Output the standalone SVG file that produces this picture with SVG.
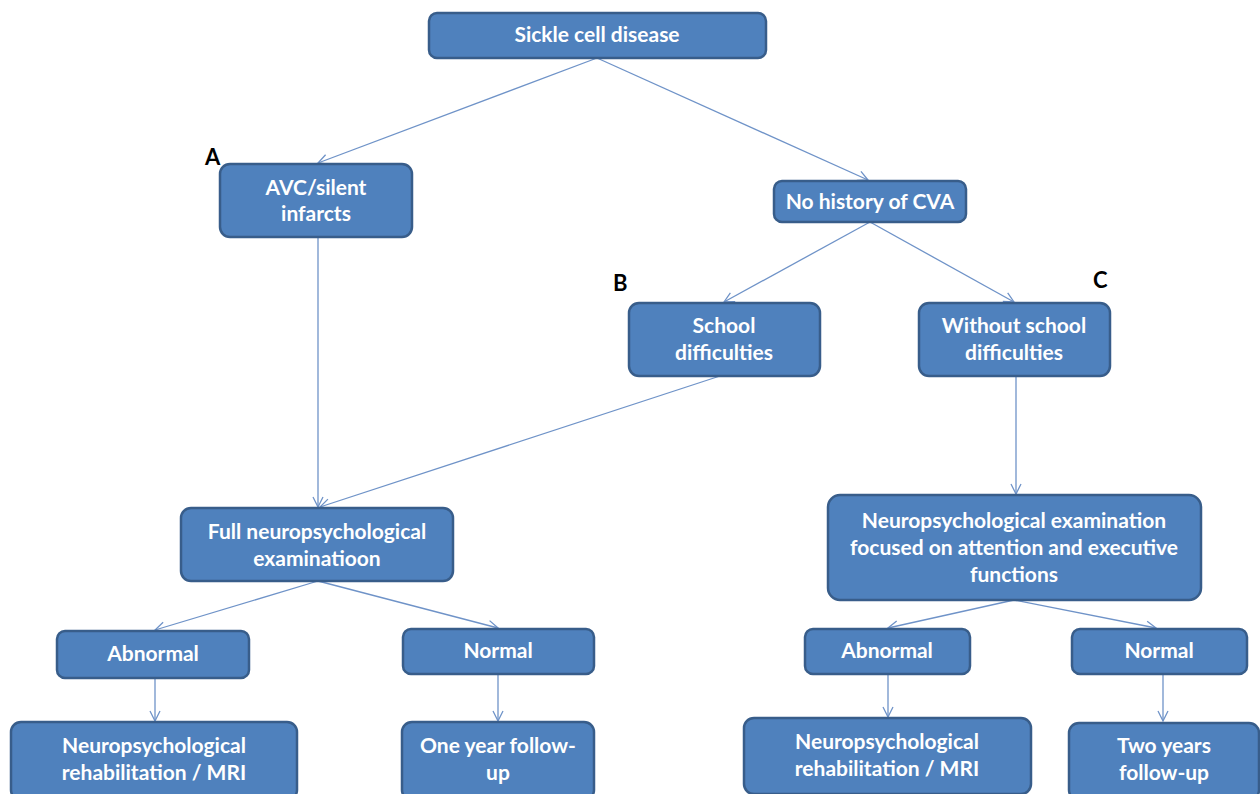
<svg xmlns="http://www.w3.org/2000/svg" width="1260" height="794" viewBox="0 0 1260 794">
  <defs>
    <style>
      .box { fill: #4F81BD; stroke: #385D8A; stroke-width: 2.5; }
      .t { font-family: Lato, "Open Sans", "Liberation Sans", sans-serif; font-weight: bold; font-size: 21px; fill: #FFFFFF; text-anchor: middle; }
      .lbl { font-family: Lato, "Liberation Sans", sans-serif; font-weight: bold; font-size: 22px; fill: #000000; }
      .c { fill: none; stroke: #6F93C8; stroke-width: 1.3; marker-end: url(#arr); }
    </style>
    <marker id="arr" viewBox="0 0 12 12" refX="11" refY="6" markerWidth="12" markerHeight="12" markerUnits="userSpaceOnUse" orient="auto">
      <path d="M1,1 L11,6 L1,11" fill="none" stroke="#6F93C8" stroke-width="1.3"/>
    </marker>
  </defs>
  <rect width="1260" height="794" fill="#FFFFFF"/>

  <g id="connectors">
    <line class="c" x1="597" y1="58" x2="318" y2="163"/>
    <line class="c" x1="597" y1="58" x2="868" y2="180"/>
    <line class="c" x1="318" y1="237" x2="318" y2="507"/>
    <line class="c" x1="870" y1="222" x2="724" y2="302"/>
    <line class="c" x1="870" y1="222" x2="1014" y2="302"/>
    <line class="c" x1="720" y1="376" x2="320" y2="507"/>
    <line class="c" x1="1016" y1="376" x2="1016" y2="494"/>
    <line class="c" x1="318" y1="581" x2="155" y2="630"/>
    <line class="c" x1="318" y1="581" x2="498" y2="628"/>
    <line class="c" x1="155" y1="678" x2="155" y2="721"/>
    <line class="c" x1="498" y1="674" x2="498" y2="721"/>
    <line class="c" x1="1014" y1="600" x2="888" y2="628"/>
    <line class="c" x1="1014" y1="600" x2="1156" y2="628"/>
    <line class="c" x1="888" y1="674" x2="888" y2="717"/>
    <line class="c" x1="1163" y1="674" x2="1163" y2="721"/>
  </g>

  <g id="n-scd">
    <rect class="box" x="429" y="13" width="337" height="45" rx="8"/>
    <text class="t" x="597" y="42">Sickle cell disease</text>
  </g>
  <g id="n-avc">
    <rect class="box" x="220" y="164" width="192" height="73" rx="10"/>
    <text class="t" x="316" y="195">AVC/silent</text>
    <text class="t" x="316" y="221">infarcts</text>
  </g>
  <g id="n-nocva">
    <rect class="box" x="774" y="181" width="192" height="41" rx="8"/>
    <text class="t" x="870" y="209">No history of CVA</text>
  </g>
  <g id="n-school">
    <rect class="box" x="629" y="303" width="191" height="73" rx="10"/>
    <text class="t" x="724" y="333">School</text>
    <text class="t" x="724" y="360">difficulties</text>
  </g>
  <g id="n-noschool">
    <rect class="box" x="919" y="303" width="191" height="73" rx="10"/>
    <text class="t" x="1014" y="333">Without school</text>
    <text class="t" x="1014" y="360">difficulties</text>
  </g>
  <g id="n-full">
    <rect class="box" x="181" y="508" width="272" height="73" rx="10"/>
    <text class="t" x="317" y="539">Full neuropsychological</text>
    <text class="t" x="317" y="566">examinatioon</text>
  </g>
  <g id="n-focused">
    <rect class="box" x="828" y="495" width="373" height="105" rx="12"/>
    <text class="t" x="1014" y="528">Neuropsychological examination</text>
    <text class="t" x="1014" y="555">focused on attention and executive</text>
    <text class="t" x="1014" y="582">functions</text>
  </g>
  <g id="n-abn-l">
    <rect class="box" x="57" y="631" width="192" height="47" rx="8"/>
    <text class="t" x="153" y="661">Abnormal</text>
  </g>
  <g id="n-norm-l">
    <rect class="box" x="403" y="629" width="191" height="45" rx="8"/>
    <text class="t" x="498" y="658">Normal</text>
  </g>
  <g id="n-rehab-l">
    <rect class="box" x="11" y="722" width="286" height="78" rx="10"/>
    <text class="t" x="154" y="753">Neuropsychological</text>
    <text class="t" x="154" y="780">rehabilitation / MRI</text>
  </g>
  <g id="n-oneyear">
    <rect class="box" x="402" y="722" width="192" height="78" rx="10"/>
    <text class="t" x="498" y="753">One year follow-</text>
    <text class="t" x="498" y="780">up</text>
  </g>
  <g id="n-abn-r">
    <rect class="box" x="805" y="629" width="165" height="45" rx="8"/>
    <text class="t" x="887" y="658">Abnormal</text>
  </g>
  <g id="n-norm-r">
    <rect class="box" x="1072" y="629" width="175" height="45" rx="8"/>
    <text class="t" x="1159" y="658">Normal</text>
  </g>
  <g id="n-rehab-r">
    <rect class="box" x="744" y="718" width="287" height="76" rx="10"/>
    <text class="t" x="887" y="749">Neuropsychological</text>
    <text class="t" x="887" y="776">rehabilitation / MRI</text>
  </g>
  <g id="n-twoyears">
    <rect class="box" x="1069" y="723" width="190" height="77" rx="10"/>
    <text class="t" x="1164" y="753">Two years</text>
    <text class="t" x="1164" y="780">follow-up</text>
  </g>

  <g id="labels">
    <text class="lbl" x="205" y="165">A</text>
    <text class="lbl" x="613" y="291">B</text>
    <text class="lbl" x="1093" y="288">C</text>
  </g>
</svg>
